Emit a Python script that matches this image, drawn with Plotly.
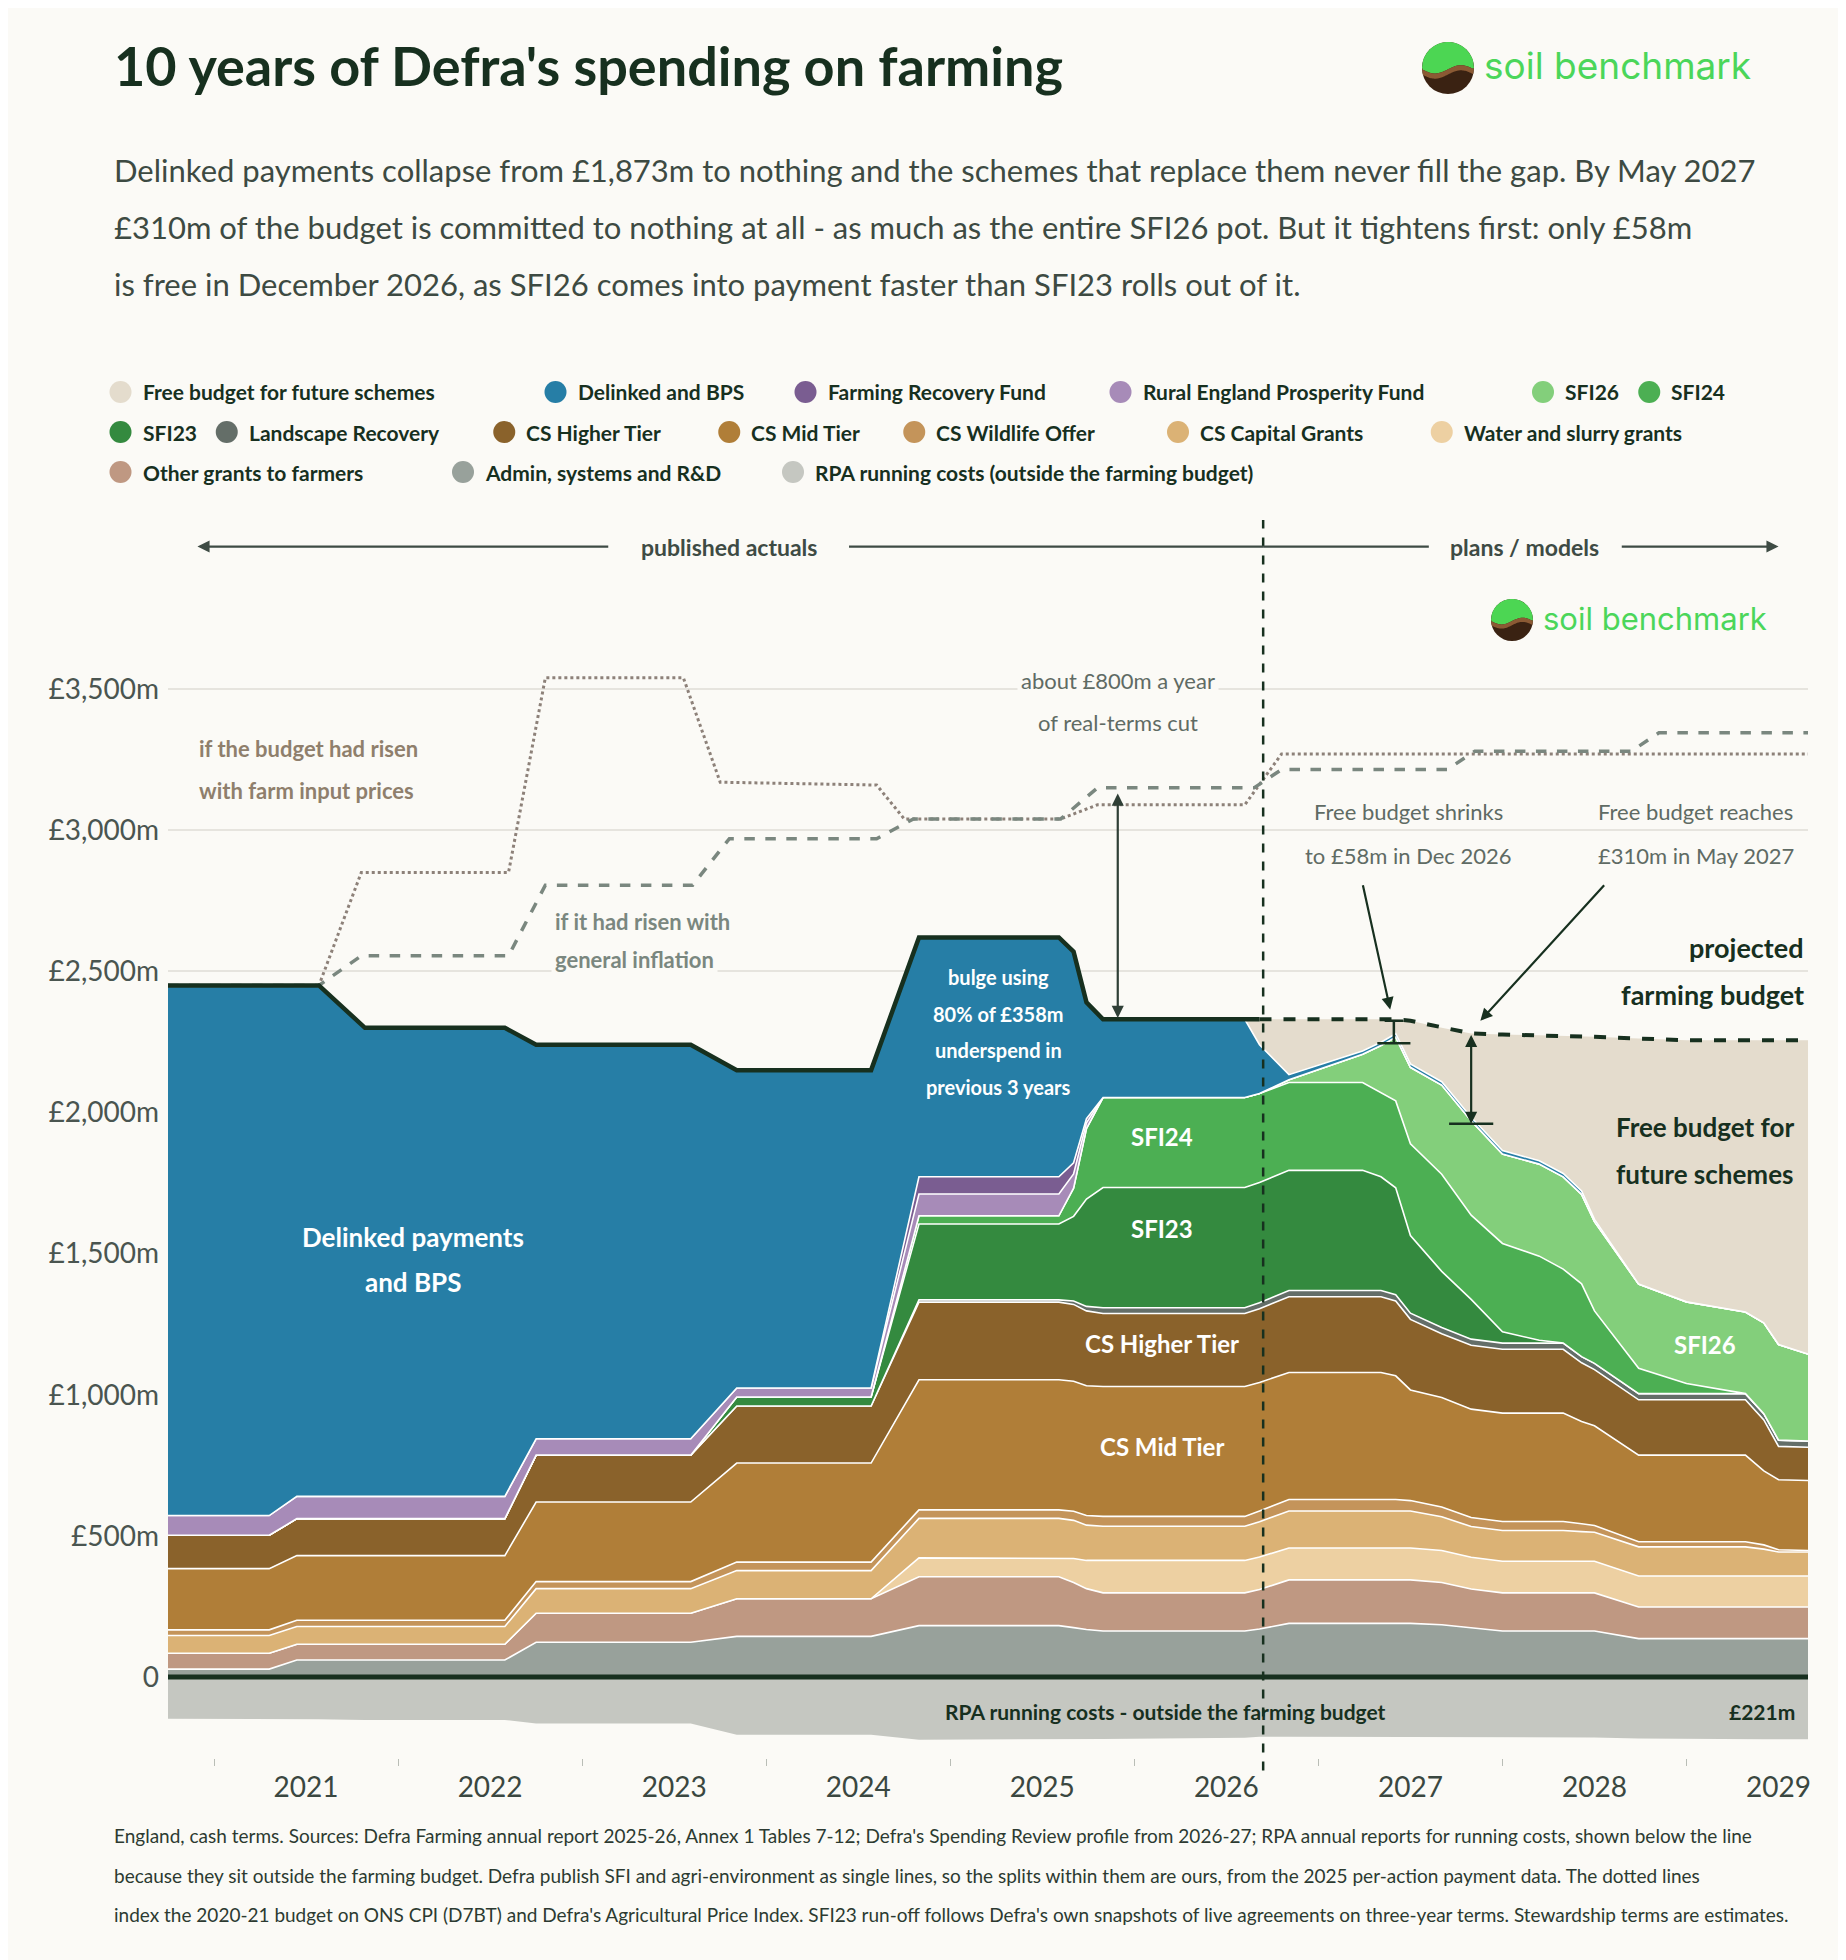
import numpy as np
import plotly.graph_objects as go

# ---- data (£m, cash terms) ----
years = [2020.25, 2020.8, 2020.95, 2021.07, 2021.32, 2022.08, 2022.25, 2023.09, 2023.34, 2024.07,
         2024.33, 2025.09, 2025.17, 2025.24, 2025.33, 2026.1, 2026.18, 2026.34, 2026.74, 2026.84,
         2026.92, 2027.0, 2027.17, 2027.33, 2027.5, 2027.7, 2027.83, 2027.93, 2028.0, 2028.24,
         2028.5, 2028.82, 2028.92, 2029.0, 2029.16]

admin = [28, 28, 60, 60, 60, 60, 123, 123, 144, 144, 182, 182, 175, 168, 163, 163, 170, 190, 190, 190,
         190, 190, 185, 175, 163, 163, 163, 163, 163, 136, 136, 136, 136, 136, 136]
other_grants = [56, 56, 56, 56, 56, 56, 103, 103, 133, 133, 173, 173, 160, 145, 135, 135, 140, 154, 154, 154,
                154, 154, 150, 137, 135, 135, 135, 135, 135, 112, 112, 112, 112, 112, 112]
water_slurry = [0, 0, 0, 0, 0, 0, 0, 0, 0, 0, 67, 67, 85, 100, 115, 115, 115, 113, 113, 113,
                113, 113, 113, 112, 112, 112, 112, 112, 112, 110, 110, 110, 110, 110, 110]
cs_capital = [63, 63, 63, 63, 63, 63, 87, 87, 100, 100, 140, 140, 135, 125, 121, 121, 125, 131, 131, 131,
              131, 131, 120, 109, 109, 109, 109, 105, 103, 103, 103, 103, 95, 85, 85]
cs_wildlife = [20, 20, 22, 22, 22, 22, 25, 25, 30, 30, 30, 30, 32, 34, 35, 35, 38, 41, 41, 41,
               41, 37, 34, 32, 32, 32, 32, 28, 24, 18, 18, 18, 15, 8, 5]
cs_mid = [217, 217, 229, 229, 229, 229, 282, 282, 351, 351, 461, 461, 461, 460, 460, 460, 455, 450, 450, 450,
          438, 392, 388, 384, 384, 384, 384, 362, 353, 307, 307, 307, 262, 248, 248]
cs_higher = [118, 118, 131, 131, 131, 131, 166, 166, 202, 202, 275, 275, 272, 265, 259, 259, 262, 268, 268, 268,
             265, 250, 226, 226, 226, 226, 226, 208, 199, 196, 196, 196, 181, 118, 118]
landscape = [0, 0, 0, 0, 0, 0, 0, 0, 0, 0, 8, 8, 12, 16, 20, 20, 21, 22, 22, 22,
             22, 22, 22, 22, 22, 22, 22, 22, 22, 22, 22, 22, 22, 22, 22]
sfi23 = [0, 0, 0, 0, 0, 0, 0, 0, 32, 32, 269, 269, 300, 380, 426, 426, 426, 426, 426, 403,
         379, 275, 199, 141, 40, 10, 0, 0, 0, 0, 0, 0, 0, 0, 0]
sfi24 = [0, 0, 0, 0, 0, 0, 0, 0, 0, 0, 29, 29, 100, 250, 319, 319, 315, 311, 311, 298,
         308, 325, 344, 298, 313, 298, 262, 258, 186, 90, 36, 0, 0, 0, 0]
sfi26 = [0, 0, 0, 0, 0, 0, 0, 0, 0, 0, 0, 0, 0, 0, 0, 0, 0, 10, 100, 167,
         226, 271, 316, 335, 317, 326, 327, 317, 316, 298, 289, 289, 322, 339, 308]
repf = [70, 70, 79, 79, 79, 79, 58, 58, 32, 32, 77, 77, 50, 20, 0, 0, 0, 0, 0, 0,
        0, 0, 0, 0, 0, 0, 0, 0, 0, 0, 0, 0, 0, 0, 0]
frf = [0, 0, 0, 0, 0, 0, 0, 0, 0, 0, 61, 61, 40, 15, 0, 0, 0, 0, 0, 0,
       0, 0, 0, 0, 0, 0, 0, 0, 0, 0, 0, 0, 0, 0, 0]
delinked = [1878, 1878, 1810, 1810, 1660, 1660, 1396, 1396, 1126, 1126, 848, 848, 748, 412, 277, 277, 173, 18, 12, 12,
            12, 12, 12, 12, 12, 12, 12, 12, 8, 0, 0, 0, 0, 0, 0]
budget = [2450, 2450, 2450, 2450, 2300, 2300, 2240, 2240, 2150, 2150, 2620, 2620, 2570, 2390, 2330, 2330, 2330, 2330, 2330, 2330,
          2330, 2325, 2300, 2280, 2276, 2274, 2272, 2270, 2268, 2262, 2256, 2256, 2256, 2256, 2256]
rpa_costs = [-148, -148, -148, -150, -152, -152, -165, -165, -205, -205, -222, -222, -222, -222, -220, -215, -212, -212, -212, -212,
             -212, -212, -212, -212, -214, -214, -214, -214, -214, -218, -220, -221, -221, -221, -221]

input_price_x = [2020.25, 2021.07, 2021.3, 2022.1, 2022.3, 2023.05, 2023.25, 2024.1, 2024.25, 2025.1, 2025.3, 2026.1, 2026.3, 2029.16]
input_price_y = [2450, 2450, 2850, 2850, 3540, 3540, 3170, 3160, 3040, 3040, 3090, 3090, 3270, 3270]
cpi_x = [2020.25, 2021.07, 2021.3, 2022.1, 2022.3, 2023.1, 2023.3, 2024.1, 2024.3, 2025.1, 2025.3, 2026.15, 2026.3,
         2027.2, 2027.35, 2028.2, 2028.35, 2029.16]
cpi_y = [2450, 2450, 2555, 2555, 2805, 2805, 2970, 2970, 3040, 3040, 3150, 3150, 3215, 3215, 3280, 3280, 3345, 3345]

SPLIT = 16  # index of the actuals / plans boundary

layers = [
    ("Admin, systems and R&D", admin, "#98a19b"),
    ("Other grants to farmers", other_grants, "#bf9882"),
    ("Water and slurry grants", water_slurry, "#edd0a2"),
    ("CS Capital Grants", cs_capital, "#dbb275"),
    ("CS Wildlife Offer", cs_wildlife, "#c4945a"),
    ("CS Mid Tier", cs_mid, "#b07e38"),
    ("CS Higher Tier", cs_higher, "#8a622b"),
    ("Landscape Recovery", landscape, "#646e68"),
    ("SFI23", sfi23, "#348a3f"),
    ("SFI24", sfi24, "#4caf53"),
    ("SFI26", sfi26, "#83cf7b"),
    ("Rural England Prosperity Fund", repf, "#a78bb8"),
    ("Farming Recovery Fund", frf, "#7a5d91"),
    ("Delinked and BPS", delinked, "#267ea6"),
]
stack_total = np.sum([np.array(v) for _, v, _ in layers], axis=0)
free = np.where(np.arange(len(years)) >= SPLIT, np.clip(np.array(budget) - stack_total, 0, None), 0)

BG = "#fbfaf6"
DARK = "#17301f"
FONT = "Lato"
W, H = 1846, 1960
L, R, T, B = 160, 46, 512, 210
PW, PH = W - L - R, H - T - B


def px(x):
    return (x - L) / PW


def py(y):
    return (H - B - y) / PH


fig = go.Figure()

for name, vals, col in layers:
    fig.add_trace(go.Scatter(x=years, y=vals, name=name, stackgroup="pos", mode="lines",
                             line=dict(color="white", width=1.6), fillcolor=col, hoverinfo="skip"))
fig.add_trace(go.Scatter(x=years, y=free, name="Free budget for future schemes", stackgroup="pos", mode="lines",
                         line=dict(width=0), fillcolor="#e4dccd", hoverinfo="skip"))
fig.add_trace(go.Scatter(x=years, y=rpa_costs, name="RPA running costs", stackgroup="neg", mode="lines",
                         line=dict(width=0), fillcolor="#c5c7c1", hoverinfo="skip"))

# what the budget would have been
fig.add_trace(go.Scatter(x=input_price_x, y=input_price_y, mode="lines",
                         line=dict(color="#8d8179", width=3, dash="dot"), hoverinfo="skip"))
fig.add_trace(go.Scatter(x=cpi_x, y=cpi_y, mode="lines",
                         line=dict(color="#7a877f", width=3.5, dash="dash"), hoverinfo="skip"))

# budget outline: actuals solid, projection dashed
fig.add_trace(go.Scatter(x=years[:SPLIT + 1], y=budget[:SPLIT + 1], mode="lines",
                         line=dict(color=DARK, width=4.5), hoverinfo="skip"))
fig.add_trace(go.Scatter(x=years[SPLIT:], y=budget[SPLIT:], mode="lines",
                         line=dict(color=DARK, width=4, dash="dash"), hoverinfo="skip"))

shapes = []
anns = []


def text(x, y, s, size=20, color=DARK, bold=False, xanchor="center", ref="data", bg=None, family=FONT):
    if bold:
        s = "<b>" + s + "</b>"
    a = dict(x=x, y=y, text=s, showarrow=False, xanchor=xanchor, yanchor="middle",
             font=dict(family=family, size=size, color=color))
    if ref == "paper":
        a.update(xref="paper", yref="paper", x=px(x), y=py(y))
    if bg:
        a.update(bgcolor=bg, borderpad=3)
    anns.append(a)


def line(x0, y0, x1, y1, color=DARK, width=2.5, dash="solid"):
    shapes.append(dict(type="line", x0=x0, y0=y0, x1=x1, y1=y1, xref="x", yref="y",
                       line=dict(color=color, width=width, dash=dash)))


def arrow(x, y, ax, ay, color=DARK, width=2.2, both=False):
    anns.append(dict(x=x, y=y, ax=ax, ay=ay, xref="x", yref="y", axref="x", ayref="y", text="",
                     showarrow=True, arrowhead=2, arrowsize=1.1, arrowwidth=width, arrowcolor=color,
                     arrowside="end+start" if both else "end", standoff=0, startstandoff=0))


# zero line and actuals/plans divider
line(2020.25, 0, 2029.16, 0, width=5)
shapes.append(dict(type="line", x0=2026.2, x1=2026.2, y0=-0.01, y1=1.0, xref="x", yref="paper",
                   line=dict(color=DARK, width=2.5, dash="dash")))

# published actuals / plans header
HY = 4005
GREY = "#3e4b44"
arrow(2020.41, HY, 2022.65, HY, color=GREY)
line(2023.95, HY, 2026.2, HY, color=GREY, width=2.2)
line(2026.2, HY, 2027.1, HY, color=GREY, width=2.2)
arrow(2029.0, HY, 2028.14, HY, color=GREY)
text(2023.3, HY, "published actuals", 23, GREY, True)
text(2027.62, HY, "plans / models", 23, GREY, True)

# real-terms cut arrow
arrow(2025.41, 2335, 2025.41, 3135, color="#2f3f36", both=True)
text(2025.41, 3531, "about £800m a year", 22, "#5f6b64", bg=BG)
text(2025.41, 3381, "of real-terms cut", 22, "#5f6b64", bg=BG)

# free budget markers
line(2026.91, 2325, 2026.91, 2245, width=2.5)
line(2026.82, 2245, 2027.0, 2245, width=2.5)
line(2026.86, 2325, 2026.96, 2325, width=2.5)
arrow(2027.33, 1960, 2027.33, 2280, both=True)
line(2027.21, 1960, 2027.45, 1960, width=2.5)
arrow(2026.89, 2365, 2026.74, 2810)
arrow(2027.38, 2325, 2028.06, 2810)
text(2026.99, 3066, "Free budget shrinks", 22, "#5f6b64", bg=BG)
text(2026.99, 2911, "to £58m in Dec 2026", 22, "#5f6b64", bg=BG)
text(2028.55, 3066, "Free budget reaches", 22, "#5f6b64", bg=BG)
text(2028.55, 2911, "£310m in May 2027", 22, "#5f6b64", bg=BG)

# guide lines for inflation counterfactuals
text(2020.41, 3288, "if the budget had risen", 22, "#8f7f6c", True, "left")
text(2020.41, 3142, "with farm input prices", 22, "#8f7f6c", True, "left")
text(2022.33, 2676, "if it had risen with", 22, "#7a877f", True, "left", bg=BG)
text(2022.33, 2543, "general inflation", 22, "#7a877f", True, "left", bg=BG)

# area labels
text(2021.58, 1560, "Delinked payments", 26, "white", True)
text(2021.58, 1400, "and BPS", 26, "white", True)
for i, s in enumerate(["bulge using", "80% of £358m", "underspend in", "previous 3 years"]):
    text(2024.76, 2480 - i * 130, s, 20, "white", True)
text(2025.65, 1914, "SFI24", 24, "white", True)
text(2025.65, 1590, "SFI23", 24, "white", True)
text(2025.65, 1183, "CS Higher Tier", 24, "white", True)
text(2025.65, 815, "CS Mid Tier", 24, "white", True)
text(2028.6, 1178, "SFI26", 24, "white", True)
text(2025.67, -122, "RPA running costs - outside the farming budget", 21, DARK, True)
text(2029.1, -122, "£221m", 21, DARK, True, "right")
text(2028.6, 1950, "Free budget for", 26, DARK, True)
text(2028.6, 1781, "future schemes", 26, DARK, True)
text(2029.15, 2583, "projected", 27, DARK, True, "right")
text(2029.15, 2419, "farming budget", 27, DARK, True, "right")


def logo(cx, cy, r, size):
    xs = np.linspace(-r, r, 60)
    half = np.sqrt(np.maximum(r * r - xs * xs, 0))
    top, bot = cy - half, cy + half
    w1 = np.clip(cy + 0.05 * r - 0.16 * r * np.sin(np.pi * xs / r), top, bot)
    w2 = np.clip(w1 + 0.2 * r, top, bot)

    def path(xa, ya, xb, yb):
        pts = list(zip(xa, ya)) + list(zip(xb[::-1], yb[::-1]))
        return "M " + " L ".join(f"{px(cx + a):.5f},{py(b):.5f}" for a, b in pts) + " Z"

    shapes.append(dict(type="circle", xref="paper", yref="paper", x0=px(cx - r), x1=px(cx + r),
                       y0=py(cy + r), y1=py(cy - r), fillcolor="#3a2212", line=dict(width=0)))
    shapes.append(dict(type="path", xref="paper", yref="paper", path=path(xs, top, xs, w1),
                       fillcolor="#4cd653", line=dict(width=0)))
    shapes.append(dict(type="path", xref="paper", yref="paper", path=path(xs, w1, xs, w2),
                       fillcolor="#8b5a34", line=dict(width=0)))
    text(cx + r + 8, cy - 2, "soil benchmark", size, "#4bd65a", xanchor="left", ref="paper", family="Inter")


logo(1440, 60, 26, 37)
logo(1504, 612, 21, 31)

# title and standfirst
text(104, 58, "10 years of Defra's spending on farming", 54, DARK, True, "left", "paper")
sub = ["Delinked payments collapse from £1,873m to nothing and the schemes that replace them never fill the gap. By May 2027",
       "£310m of the budget is committed to nothing at all - as much as the entire SFI26 pot. But it tightens first: only £58m",
       "is free in December 2026, as SFI26 comes into payment faster than SFI23 rolls out of it."]
for i, s in enumerate(sub):
    text(104, 162 + i * 57, s, 31, "#3d4a42", xanchor="left", ref="paper")

# legend
legend_rows = [
    [(90, "Free budget for future schemes", "#e4dccd"), (438, "Delinked and BPS", "#267ea6"),
     (638, "Farming Recovery Fund", "#7a5d91"), (890, "Rural England Prosperity Fund", "#a78bb8"),
     (1228, "SFI26", "#83cf7b"), (1313, "SFI24", "#4caf53")],
    [(90, "SFI23", "#348a3f"), (175, "Landscape Recovery", "#646e68"), (397, "CS Higher Tier", "#8a622b"),
     (577, "CS Mid Tier", "#b07e38"), (725, "CS Wildlife Offer", "#c4945a"), (936, "CS Capital Grants", "#dbb275"),
     (1147, "Water and slurry grants", "#edd0a2")],
    [(90, "Other grants to farmers", "#bf9882"), (364, "Admin, systems and R&D", "#98a19b"),
     (628, "RPA running costs (outside the farming budget)", "#c5c7c1")],
]
for r_i, row in enumerate(legend_rows):
    yy = 384 + r_i * 40
    for dx, label, col in row:
        cx = dx * 1.25
        shapes.append(dict(type="circle", xref="paper", yref="paper", x0=px(cx - 11), x1=px(cx + 11),
                           y0=py(yy + 11), y1=py(yy - 11), fillcolor=col, line=dict(width=0)))
        text(cx + 20, yy, label, 21, DARK, True, "left", "paper")

foot = ["England, cash terms. Sources: Defra Farming annual report 2025-26, Annex 1 Tables 7-12; Defra's Spending Review profile from 2026-27; RPA annual reports for running costs, shown below the line",
        "because they sit outside the farming budget. Defra publish SFI and agri-environment as single lines, so the splits within them are ours, from the 2025 per-action payment data. The dotted lines",
        "index the 2020-21 budget on ONS CPI (D7BT) and Defra's Agricultural Price Index. SFI23 run-off follows Defra's own snapshots of live agreements on three-year terms. Stewardship terms are estimates."]
for i, s in enumerate(foot):
    text(104, 1827 + i * 40, s, 19, "#2c3a31", xanchor="left", ref="paper")

ytick = list(range(0, 4000, 500))
fig.update_layout(
    width=W, height=H, paper_bgcolor=BG, plot_bgcolor=BG, showlegend=False,
    margin=dict(l=L, r=R, t=T, b=B), font=dict(family=FONT, color="#4a5550"),
    shapes=shapes, annotations=anns,
    xaxis=dict(range=[2020.25, 2029.16], tickvals=list(range(2021, 2030)), ticks="", showgrid=False,
               zeroline=False, showline=False, tickfont=dict(size=28, color="#3a4740"), ticklabelstandoff=10,
               minor=dict(tickvals=[y + 0.5 for y in range(2020, 2029)], ticks="outside", ticklen=7,
                          tickcolor="#b9bdb6", showgrid=False)),
    yaxis=dict(range=[-287, 4099], tickvals=ytick,
               ticktext=["0"] + [f"£{v:,}m" for v in ytick[1:]], showgrid=True, gridcolor="#e6e4de",
               gridwidth=1.5, zeroline=False, tickfont=dict(size=28, color="#4a5550"), ticklabelstandoff=8),
)

fig.write_html("out.html")
